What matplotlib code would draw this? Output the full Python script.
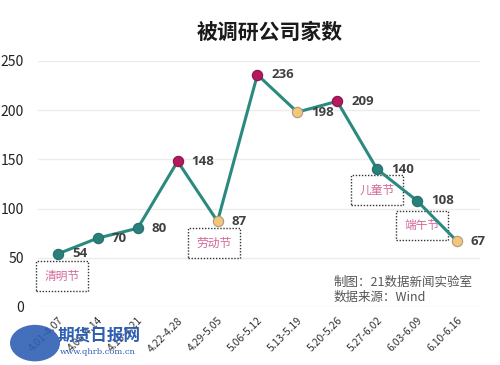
import matplotlib
matplotlib.use("Agg")
import matplotlib.pyplot as plt
from matplotlib.patches import Ellipse

plt.rcParams["font.family"] = ["Noto Sans CJK SC", "DejaVu Sans"]

weeks = ["4.01-4.07", "4.08-4.14", "4.15-4.21", "4.22-4.28", "4.29-5.05",
         "5.06-5.12", "5.13-5.19", "5.20-5.26", "5.27-6.02", "6.03-6.09",
         "6.10-6.16"]
counts = [54, 70, 80, 148, 87, 236, 198, 209, 140, 108, 67]
# marker type: n = normal, p = peak, h = holiday week
kinds = ["n", "n", "n", "p", "h", "p", "h", "p", "n", "n", "h"]
holidays = ["清明节", "劳动节", "儿童节", "端午节"]
holiday_at = [0, 4, 8, 10]
yticks = [0, 50, 100, 150, 200, 250]

LINE = "#2b8a80"
colors = {"n": "#2b7f7a", "p": "#b3195c", "h": "#f2c77a"}
edges = {"n": "#23706b", "p": "#8e1249", "h": "#a89a80"}

fig = plt.figure(figsize=(5, 3.65), dpi=100)
ax = fig.add_axes([0.076, 0.159, 0.884, 0.674])
x = list(range(len(weeks)))
ax.plot(x, counts, color=LINE, lw=2.2, zorder=2)
for xi, v, k in zip(x, counts, kinds):
    ax.scatter(xi, v, s=55, color=colors[k], edgecolor=edges[k], lw=0.8, zorder=3)
    ax.annotate(str(v), (xi, v), xytext=(10, 0), textcoords="offset points",
                va="center", ha="left", fontsize=9.5, fontweight="bold", color="#404040",
                family=["Open Sans", "DejaVu Sans"])

# holiday boxes near the points (offsets in data units), line runs over them
box_off = {0: (0.1, -22.5), 4: (-0.08, -22), 8: (0.0, -21), 10: (-0.87, 16)}
for name, i in zip(holidays, holiday_at):
    dx, dy = box_off[i]
    ax.text(i + dx, counts[i] + dy, name, ha="center", va="center", fontsize=8.5,
            color="#d4689a", zorder=1.5,
            bbox=dict(boxstyle="square,pad=0.7", fc="white", ec="#333333",
                      ls=(0, (1, 1.2)), lw=1))

ax.set_xlim(-0.5, 10.58)
ax.set_ylim(0, 250)
ax.set_yticks(yticks)
ax.set_xticks(x)
ax.set_xticklabels(weeks, rotation=45, ha="right", rotation_mode="anchor",
                   fontsize=7.5, color="#333333")
ax.tick_params(axis="y", labelsize=10, colors="#222222", length=0, pad=10)
ax.tick_params(axis="x", length=0, pad=6)
ax.grid(axis="y", color="#ececec", lw=1)
ax.set_axisbelow(True)
for s in ax.spines.values():
    s.set_visible(False)

fig.text(0.54, 0.91, "被调研公司家数", ha="center", va="center",
         fontsize=15, fontweight="bold", color="#1a1a1a")
fig.text(0.668, 0.205, "制图：21数据新闻实验室\n数据来源：Wind", ha="left", va="center",
         fontsize=9, color="#555555", linespacing=1.2)

# watermark of the source site
fig.patches.append(Ellipse((0.07, 0.06), 0.1, 0.1, transform=fig.transFigure,
                           fc="#2f5fb3", ec="none", alpha=0.9))
fig.text(0.115, 0.08, "期货日报网", fontsize=12, fontweight="bold", color="#2f5fb3",
         style="italic", ha="left", va="center")
fig.text(0.12, 0.035, "www.qhrb.com.cn", fontsize=6, color="#2f5fb3",
         ha="left", va="center", family=["DejaVu Serif"])

fig.savefig("out.png", dpi=100)
